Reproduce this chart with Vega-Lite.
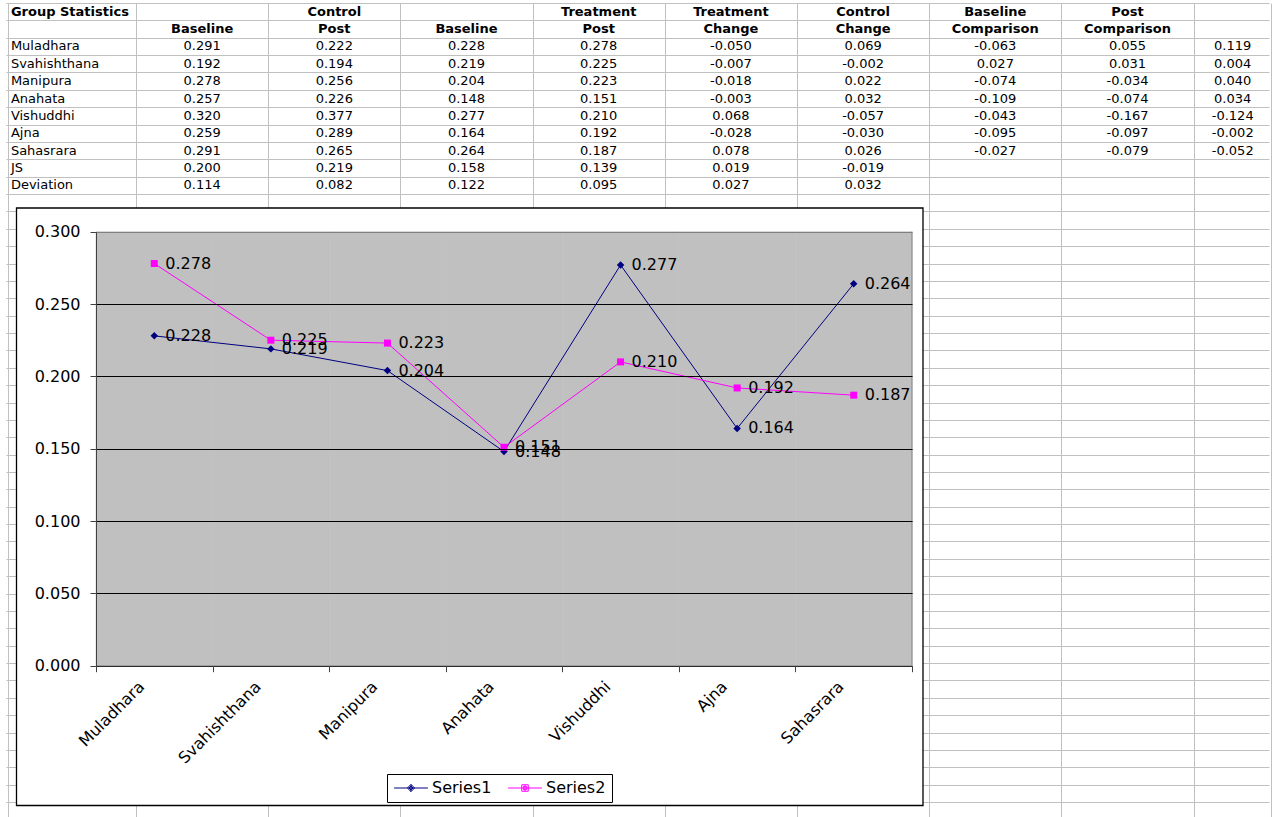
{
  "$schema": "https://vega.github.io/schema/vega-lite/v6.json",
  "width": 1277,
  "height": 817,
  "autosize": {"type": "none"},
  "padding": 0,
  "background": "white",
  "config": {"view": {"stroke": null}, "font": "DejaVu Sans"},
  "datasets": {
    "sheet": [
      {"r": 0, "c": 0, "t": "Group Statistics"}, {"r": 0, "c": 2, "t": "Control"}, {"r": 0, "c": 4, "t": "Treatment"}, {"r": 0, "c": 5, "t": "Treatment"}, {"r": 0, "c": 6, "t": "Control"}, {"r": 0, "c": 7, "t": "Baseline"}, {"r": 0, "c": 8, "t": "Post"},
      {"r": 1, "c": 1, "t": "Baseline"}, {"r": 1, "c": 2, "t": "Post"}, {"r": 1, "c": 3, "t": "Baseline"}, {"r": 1, "c": 4, "t": "Post"}, {"r": 1, "c": 5, "t": "Change"}, {"r": 1, "c": 6, "t": "Change"}, {"r": 1, "c": 7, "t": "Comparison"}, {"r": 1, "c": 8, "t": "Comparison"},
      {"r": 2, "c": 0, "t": "Muladhara"}, {"r": 2, "c": 1, "t": "0.291"}, {"r": 2, "c": 2, "t": "0.222"}, {"r": 2, "c": 3, "t": "0.228"}, {"r": 2, "c": 4, "t": "0.278"}, {"r": 2, "c": 5, "t": "-0.050"}, {"r": 2, "c": 6, "t": "0.069"}, {"r": 2, "c": 7, "t": "-0.063"}, {"r": 2, "c": 8, "t": "0.055"}, {"r": 2, "c": 9, "t": "0.119"},
      {"r": 3, "c": 0, "t": "Svahishthana"}, {"r": 3, "c": 1, "t": "0.192"}, {"r": 3, "c": 2, "t": "0.194"}, {"r": 3, "c": 3, "t": "0.219"}, {"r": 3, "c": 4, "t": "0.225"}, {"r": 3, "c": 5, "t": "-0.007"}, {"r": 3, "c": 6, "t": "-0.002"}, {"r": 3, "c": 7, "t": "0.027"}, {"r": 3, "c": 8, "t": "0.031"}, {"r": 3, "c": 9, "t": "0.004"},
      {"r": 4, "c": 0, "t": "Manipura"}, {"r": 4, "c": 1, "t": "0.278"}, {"r": 4, "c": 2, "t": "0.256"}, {"r": 4, "c": 3, "t": "0.204"}, {"r": 4, "c": 4, "t": "0.223"}, {"r": 4, "c": 5, "t": "-0.018"}, {"r": 4, "c": 6, "t": "0.022"}, {"r": 4, "c": 7, "t": "-0.074"}, {"r": 4, "c": 8, "t": "-0.034"}, {"r": 4, "c": 9, "t": "0.040"},
      {"r": 5, "c": 0, "t": "Anahata"}, {"r": 5, "c": 1, "t": "0.257"}, {"r": 5, "c": 2, "t": "0.226"}, {"r": 5, "c": 3, "t": "0.148"}, {"r": 5, "c": 4, "t": "0.151"}, {"r": 5, "c": 5, "t": "-0.003"}, {"r": 5, "c": 6, "t": "0.032"}, {"r": 5, "c": 7, "t": "-0.109"}, {"r": 5, "c": 8, "t": "-0.074"}, {"r": 5, "c": 9, "t": "0.034"},
      {"r": 6, "c": 0, "t": "Vishuddhi"}, {"r": 6, "c": 1, "t": "0.320"}, {"r": 6, "c": 2, "t": "0.377"}, {"r": 6, "c": 3, "t": "0.277"}, {"r": 6, "c": 4, "t": "0.210"}, {"r": 6, "c": 5, "t": "0.068"}, {"r": 6, "c": 6, "t": "-0.057"}, {"r": 6, "c": 7, "t": "-0.043"}, {"r": 6, "c": 8, "t": "-0.167"}, {"r": 6, "c": 9, "t": "-0.124"},
      {"r": 7, "c": 0, "t": "Ajna"}, {"r": 7, "c": 1, "t": "0.259"}, {"r": 7, "c": 2, "t": "0.289"}, {"r": 7, "c": 3, "t": "0.164"}, {"r": 7, "c": 4, "t": "0.192"}, {"r": 7, "c": 5, "t": "-0.028"}, {"r": 7, "c": 6, "t": "-0.030"}, {"r": 7, "c": 7, "t": "-0.095"}, {"r": 7, "c": 8, "t": "-0.097"}, {"r": 7, "c": 9, "t": "-0.002"},
      {"r": 8, "c": 0, "t": "Sahasrara"}, {"r": 8, "c": 1, "t": "0.291"}, {"r": 8, "c": 2, "t": "0.265"}, {"r": 8, "c": 3, "t": "0.264"}, {"r": 8, "c": 4, "t": "0.187"}, {"r": 8, "c": 5, "t": "0.078"}, {"r": 8, "c": 6, "t": "0.026"}, {"r": 8, "c": 7, "t": "-0.027"}, {"r": 8, "c": 8, "t": "-0.079"}, {"r": 8, "c": 9, "t": "-0.052"},
      {"r": 9, "c": 0, "t": "JS"}, {"r": 9, "c": 1, "t": "0.200"}, {"r": 9, "c": 2, "t": "0.219"}, {"r": 9, "c": 3, "t": "0.158"}, {"r": 9, "c": 4, "t": "0.139"}, {"r": 9, "c": 5, "t": "0.019"}, {"r": 9, "c": 6, "t": "-0.019"},
      {"r": 10, "c": 0, "t": "Deviation"}, {"r": 10, "c": 1, "t": "0.114"}, {"r": 10, "c": 2, "t": "0.082"}, {"r": 10, "c": 3, "t": "0.122"}, {"r": 10, "c": 4, "t": "0.095"}, {"r": 10, "c": 5, "t": "0.027"}, {"r": 10, "c": 6, "t": "0.032"}
    ],
    "chart": [
      {"series": "Series1", "cat": "Muladhara", "v": 0.228},
      {"series": "Series1", "cat": "Svahishthana", "v": 0.219},
      {"series": "Series1", "cat": "Manipura", "v": 0.204},
      {"series": "Series1", "cat": "Anahata", "v": 0.148},
      {"series": "Series1", "cat": "Vishuddhi", "v": 0.277},
      {"series": "Series1", "cat": "Ajna", "v": 0.164},
      {"series": "Series1", "cat": "Sahasrara", "v": 0.264},
      {"series": "Series2", "cat": "Muladhara", "v": 0.278},
      {"series": "Series2", "cat": "Svahishthana", "v": 0.225},
      {"series": "Series2", "cat": "Manipura", "v": 0.223},
      {"series": "Series2", "cat": "Anahata", "v": 0.151},
      {"series": "Series2", "cat": "Vishuddhi", "v": 0.210},
      {"series": "Series2", "cat": "Ajna", "v": 0.192},
      {"series": "Series2", "cat": "Sahasrara", "v": 0.187}
    ]
  },
  "layer": [
    {
      "data": {"name": "sheet"},
      "encoding": {
        "x": {
          "field": "c", "type": "quantitative",
          "scale": {"domain": [-0.4682, 9.0855], "range": [8, 1271], "zero": false, "nice": false},
          "axis": {"orient": "top", "title": null, "labels": false, "ticks": false, "domain": false, "grid": true, "gridColor": "#c0c0c0", "gridWidth": 1, "gridOpacity": 1, "zindex": 0,
            "values": [-0.468, 0.5, 1.5, 2.5, 3.5, 4.5, 5.5, 6.5, 7.5, 8.5, 9.085]}
        },
        "y": {
          "field": "r", "type": "quantitative",
          "scale": {"domain": [-0.5, 46.5], "range": [3, 819.39], "zero": false, "nice": false},
          "axis": {"orient": "right", "title": null, "labels": false, "ticks": false, "domain": false, "grid": true, "gridColor": "#c0c0c0", "gridWidth": 1, "gridOpacity": 1, "zindex": 0,
            "values": [-0.5, 0.5, 1.5, 2.5, 3.5, 4.5, 5.5, 6.5, 7.5, 8.5, 9.5, 10.5, 11.5, 12.5, 13.5, 14.5, 15.5, 16.5, 17.5, 18.5, 19.5, 20.5, 21.5, 22.5, 23.5, 24.5, 25.5, 26.5, 27.5, 28.5, 29.5, 30.5, 31.5, 32.5, 33.5, 34.5, 35.5, 36.5, 37.5, 38.5, 39.5, 40.5, 41.5, 42.5, 43.5, 44.5, 45.5]}
        }
      },
      "layer": [
        {
          "transform": [{"filter": "datum.c == 0 && datum.r < 2"}],
          "mark": {"type": "text", "align": "left", "baseline": "middle", "dx": -59, "fontSize": 13, "fontWeight": "bold", "color": "black"},
          "encoding": {"text": {"field": "t"}}
        },
        {
          "transform": [{"filter": "datum.c == 0 && datum.r >= 2"}],
          "mark": {"type": "text", "align": "left", "baseline": "middle", "dx": -59, "fontSize": 13, "color": "black"},
          "encoding": {"text": {"field": "t"}}
        },
        {
          "transform": [{"filter": "datum.c > 0 && datum.r < 2"}],
          "mark": {"type": "text", "align": "center", "baseline": "middle", "fontSize": 13, "fontWeight": "bold", "color": "black"},
          "encoding": {"text": {"field": "t"}}
        },
        {
          "transform": [{"filter": "datum.c > 0 && datum.c < 9 && datum.r >= 2"}],
          "mark": {"type": "text", "align": "center", "baseline": "middle", "fontSize": 13, "color": "black"},
          "encoding": {"text": {"field": "t"}}
        },
        {
          "transform": [{"filter": "datum.c == 9"}],
          "mark": {"type": "text", "align": "center", "baseline": "middle", "dx": -27, "fontSize": 13, "color": "black"},
          "encoding": {"text": {"field": "t"}}
        },
        {
          "transform": [{"filter": "datum.r == 0 && datum.c == 0"}],
          "mark": {"type": "rect", "fill": "white", "stroke": "black", "strokeWidth": 1.3},
          "encoding": {
            "x": {"datum": -0.4039, "type": "quantitative"},
            "x2": {"datum": 6.4531},
            "y": {"datum": 11.302, "type": "quantitative"},
            "y2": {"datum": 45.70}
          }
        }
      ]
    },
    {
      "data": {"name": "chart"},
      "encoding": {
        "x": {
          "field": "cat", "type": "nominal", "sort": null,
          "scale": {"type": "band", "domain": ["Muladhara", "Svahishthana", "Manipura", "Anahata", "Vishuddhi", "Ajna", "Sahasrara"], "range": [96, 912], "paddingInner": 0, "paddingOuter": 0},
          "axis": {"orient": "bottom", "offset": -151.3, "title": null, "labelAngle": -45, "labelAlign": "right", "labelBaseline": "middle", "labelFontSize": 16, "labelColor": "black", "labelPadding": 12, "labelOffset": -13,
            "tickBand": "extent", "tickSize": 6, "tickColor": "#404040", "domainColor": "#404040", "zindex": 1, "grid": false}
        },
        "y": {
          "field": "v", "type": "quantitative",
          "scale": {"domain": [0, 0.3], "range": [665.7, 231.7], "zero": false, "nice": false},
          "axis": {"orient": "left", "offset": -96, "title": null, "values": [0, 0.05, 0.1, 0.15, 0.2, 0.25, 0.3], "format": ".3f",
            "labelFontSize": 16, "labelColor": "black", "labelPadding": 10, "tickSize": 6, "tickColor": "#404040", "domainColor": "#404040", "zindex": 1,
            "grid": true, "gridColor": {"condition": {"test": "datum.value > 0.29", "value": "#808080"}, "value": "black"}, "gridOpacity": 1}
        }
      },
      "layer": [
        {
          "transform": [{"filter": "datum.series == 'Series1'"}],
          "mark": {"type": "rect", "fill": "#c0c0c0", "stroke": "#c0c0c0", "strokeWidth": 0.6},
          "encoding": {"y": {"datum": 0, "type": "quantitative"}, "y2": {"datum": 0.3}}
        },
        {
          "transform": [{"filter": "datum.series == 'Series1' && datum.cat == 'Sahasrara'"}],
          "mark": {"type": "rule", "color": "#808080", "strokeWidth": 1},
          "encoding": {
            "x": {"field": "cat", "type": "nominal", "bandPosition": 1},
            "y": {"datum": 0, "type": "quantitative"}, "y2": {"datum": 0.3}
          }
        },
        {
          "mark": {"type": "line", "strokeWidth": 1},
          "encoding": {
            "color": {
              "field": "series", "type": "nominal",
              "scale": {"domain": ["Series1", "Series2"], "range": ["#000080", "#ff00ff"]},
              "legend": {"title": null, "orient": "none", "legendX": 387, "legendY": 774, "direction": "horizontal", "strokeColor": "black", "fillColor": "white", "padding": 6, "labelFontSize": 16, "labelColor": "black", "symbolSize": 169, "symbolOffset": 10, "labelOffset": 13, "columnPadding": 14, "symbolOpacity": 1, "symbolStrokeWidth": 1}
            }
          }
        },
        {
          "transform": [{"filter": "datum.series == 'Series1'"}],
          "mark": {"type": "point", "shape": "diamond", "filled": true, "opacity": 1, "size": 56, "color": "#000080"}
        },
        {
          "transform": [{"filter": "datum.series == 'Series2'"}],
          "mark": {"type": "point", "shape": "square", "filled": true, "opacity": 1, "size": 49, "color": "#ff00ff"}
        },
        {
          "mark": {"type": "point", "filled": false, "opacity": 0, "size": 1, "strokeWidth": 1},
          "encoding": {
            "color": {"field": "series", "type": "nominal"},
            "shape": {"field": "series", "type": "nominal", "legend": null,
              "scale": {"domain": ["Series1", "Series2"], "range": [
                "M-2.6,0L2.6,0M0,-0.55L0.55,0L0,0.55L-0.55,0ZM0,-0.3L0.3,0L0,0.3L-0.3,0ZM0,-0.55L0,0.55",
                "M-2.6,0L2.6,0M-0.5,-0.5L0.5,-0.5L0.5,0.5L-0.5,0.5ZM-0.25,-0.25L0.25,-0.25L0.25,0.25L-0.25,0.25ZM0,-0.5L0,0.5"
              ]}}
          }
        },
        {
          "mark": {"type": "text", "align": "left", "baseline": "middle", "dx": 11, "fontSize": 16, "color": "black"},
          "encoding": {"text": {"field": "v", "type": "quantitative", "format": ".3f"}}
        }
      ]
    }
  ],
  "resolve": {"scale": {"x": "independent", "y": "independent"}, "axis": {"x": "independent", "y": "independent"}}
}
